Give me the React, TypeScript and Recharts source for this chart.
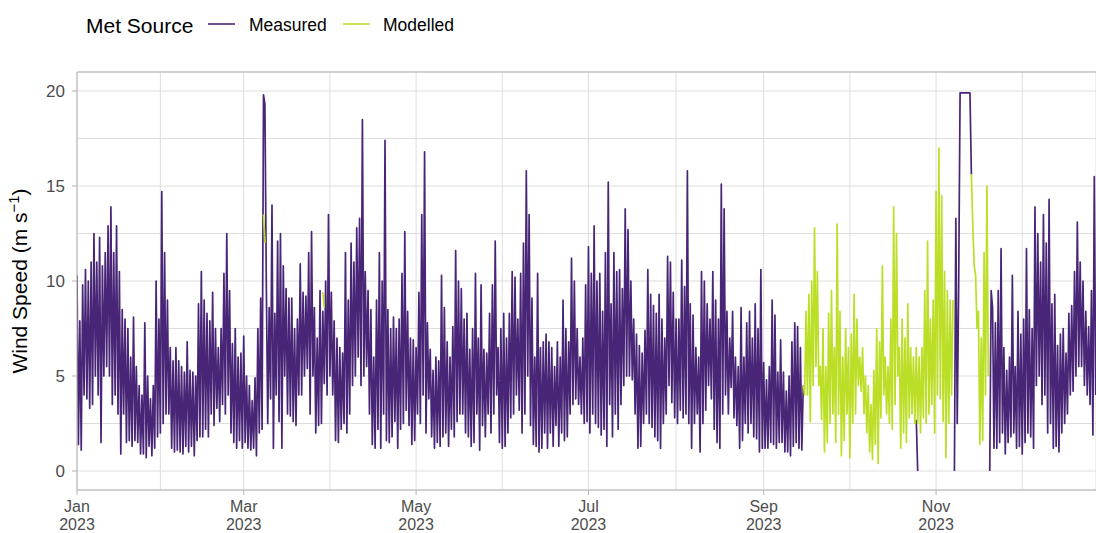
import React from 'react';
import { LineChart, Line, XAxis, YAxis, CartesianGrid, ReferenceLine, Label } from 'recharts';

// each day is drawn as two readings: [peak, trough]; null = no data from that source
type Pair = [number | null, number | null] | null;
const gap = (n: number): Pair[] => Array(n).fill(null);

const measuredJan: Pair[] = [
  [10.3, 1.4], [7.9, 1.1], [9.8, 4.0], [10.6, 3.8], [10.0, 3.3], [11.0, 3.5], [12.5, 5.0], [11.0, 4.0], [12.3, 1.5], [10.8, 5.0],
  [11.5, 5.5], [12.9, 5.0], [13.9, 3.5], [11.5, 4.0], [12.9, 3.0], [10.5, 0.9], [8.5, 3.0], [8.0, 1.5], [7.5, 1.6], [6.0, 1.3],
  [8.1, 1.6], [5.5, 1.5], [4.5, 0.9], [4.0, 0.9], [7.8, 0.7], [5.0, 1.3], [3.8, 0.8], [4.5, 1.2], [10.0, 1.8], [8.0, 2.0],
  [14.7, 2.5],
];
const measuredFeb: Pair[] = [
  [11.5, 3.0], [9.0, 3.0], [6.5, 1.2], [5.8, 1.0], [6.5, 1.1], [5.8, 1.0], [5.5, 0.9], [5.2, 1.3], [6.8, 1.0], [5.3, 1.3],
  [5.2, 0.8], [5.0, 1.6], [8.8, 1.8], [10.5, 1.8], [9.0, 2.2], [8.3, 1.8], [7.9, 3.0], [9.4, 2.4], [7.5, 3.3], [6.5, 2.6],
  [7.5, 3.5], [10.4, 3.0], [12.5, 4.0], [9.5, 2.0], [6.7, 1.5], [7.5, 1.2], [6.0, 1.6], [6.2, 1.2],
];
const measuredMar: Pair[] = [
  [7.1, 1.5], [5.0, 1.2], [4.5, 1.1], [3.7, 1.2], [4.9, 0.8], [7.5, 2.0], [9.1, 2.2], [19.8, 19.3], [9.8, 2.5], [8.6, 3.8],
  [14.0, 1.2], [8.3, 4.0], [12.1, 2.6], [12.5, 1.2], [10.8, 5.0], [9.6, 3.0], [9.1, 2.9], [9.1, 2.6], [7.5, 2.4], [8.0, 4.0],
  [10.9, 4.0], [9.4, 5.0], [9.2, 5.4], [11.5, 3.0], [12.6, 5.0], [8.6, 2.0], [7.0, 2.4], [9.5, 2.5], [8.4, 4.6], [10.0, 4.0],
  [13.5, 5.0],
];
const measuredApr: Pair[] = [
  [9.4, 4.0], [7.9, 1.6], [7.0, 1.5], [6.5, 2.2], [6.2, 2.5], [11.5, 2.0], [9.0, 3.0], [12.0, 4.5], [11.0, 5.0], [12.8, 6.0],
  [13.3, 4.5], [18.5, 5.0], [10.5, 5.5], [9.5, 3.0], [8.5, 1.4], [6.0, 1.2], [9.0, 2.2], [11.5, 1.2], [10.0, 3.0], [17.4, 1.6],
  [8.5, 1.5], [7.5, 1.8], [8.1, 2.6], [7.5, 1.2], [8.0, 2.2], [10.4, 2.5], [12.6, 3.2], [8.4, 2.4], [7.0, 1.4], [6.9, 1.6],
];
const measuredMay: Pair[] = [
  [6.5, 3.0], [9.4, 2.5], [13.5, 4.0], [16.8, 2.0], [7.8, 3.8], [6.4, 1.8], [5.3, 1.2], [6.0, 1.5], [5.8, 1.3], [10.3, 1.8],
  [8.6, 2.0], [6.8, 1.3], [6.0, 2.2], [7.6, 1.8], [11.6, 2.6], [10.0, 3.0], [9.6, 3.0], [8.0, 2.0], [8.3, 1.8], [6.4, 1.3],
  [7.5, 1.5], [10.4, 3.0], [7.0, 1.1], [9.8, 2.4], [6.4, 1.8], [6.2, 3.0], [8.3, 2.0], [9.8, 3.0], [12.1, 4.0], [6.5, 1.5],
  [7.5, 1.2],
];
const measuredJun: Pair[] = [
  [8.3, 1.3], [7.0, 2.0], [8.3, 2.8], [10.5, 3.0], [10.2, 4.0], [8.0, 3.2], [10.4, 2.0], [12.0, 3.0], [15.8, 5.0], [13.5, 2.4],
  [9.1, 1.4], [6.0, 1.3], [10.4, 1.0], [6.5, 1.2], [6.8, 2.0], [7.2, 1.2], [6.8, 2.0], [6.5, 1.3], [5.5, 2.4], [6.8, 1.3],
  [6.0, 2.0], [9.0, 1.6], [7.5, 1.8], [6.8, 3.0], [11.2, 3.5], [10.0, 3.8], [7.5, 3.5], [6.0, 3.0], [7.0, 2.5], [9.8, 2.6],
];
const measuredJul: Pair[] = [
  [11.8, 2.0], [10.4, 3.0], [12.9, 2.5], [10.0, 2.3], [10.4, 1.9], [8.4, 2.2], [11.5, 1.3], [15.2, 3.5], [8.8, 1.8], [11.5, 3.0],
  [10.5, 2.2], [10.6, 3.5], [9.6, 4.5], [13.8, 5.0], [12.7, 5.0], [10.0, 4.8], [8.0, 3.0], [7.2, 1.2], [6.6, 1.3], [6.2, 2.5],
  [7.4, 3.0], [10.6, 2.5], [9.3, 2.3], [8.7, 1.8], [8.3, 1.6], [9.3, 1.2], [8.0, 2.5], [7.0, 3.0], [11.3, 4.5], [11.0, 3.6],
  [9.4, 2.8],
];
const measuredAug: Pair[] = [
  [8.0, 2.5], [8.0, 3.2], [11.1, 2.8], [9.7, 3.0], [15.8, 2.5], [8.8, 1.2], [8.2, 2.5], [6.5, 3.0], [6.0, 1.0], [10.5, 2.5],
  [10.0, 3.2], [8.8, 4.5], [8.0, 3.8], [10.5, 2.2], [9.0, 1.5], [8.0, 1.2], [15.1, 3.0], [13.8, 4.0], [8.4, 3.0], [7.0, 4.4],
  [8.4, 2.8], [6.0, 2.4], [5.5, 1.2], [8.6, 1.6], [6.0, 2.5], [7.8, 2.0], [8.4, 2.5], [7.0, 1.8], [8.8, 1.7], [7.5, 1.0],
  [10.6, 1.2],
];
const measuredSep: Pair[] = [
  [5.7, 1.2], [4.8, 1.2], [5.5, 1.5], [9.0, 1.4], [8.2, 1.2], [5.2, 1.5], [6.9, 1.5], [5.2, 1.0], [4.2, 1.0], [5.0, 0.8],
  [6.8, 1.3], [7.8, 1.5], [7.6, 1.2], [6.5, 1.1], [4.5, null],
  ...gap(15),
];
const measuredOct: Pair[] = [...gap(24), [2.7, 0.0], ...gap(6)];
const measuredNov: Pair[] = [
  ...gap(6),
  [null, 0.0], [13.3, 2.5], [9.7, 19.9], [19.9, 19.9], [19.9, 19.9], [19.9, 19.9], [19.9, 15.6],
  ...gap(6),
  [0.0, 9.5], [8.6, 1.2], [7.8, 1.2], [9.5, 1.5], [11.7, 2.0], [6.5, 0.9], [5.3, 1.5], [6.0, 1.8], [10.3, 2.0], [5.5, 1.2],
  [8.4, 1.3],
];
const measuredDec: Pair[] = [
  [7.2, 0.9], [8.0, 1.5], [11.7, 2.0], [8.5, 1.8], [7.5, 1.2], [13.9, 4.5], [12.5, 5.0], [11.0, 3.5], [13.5, 4.0], [12.0, 2.0],
  [14.3, 2.5], [8.8, 1.2], [9.3, 1.3], [6.6, 1.0], [7.2, 2.0], [7.5, 2.5], [6.2, 3.0], [8.3, 4.0], [8.7, 4.2], [10.5, 5.0],
  [13.1, 5.5], [11.0, 5.5], [10.0, 4.5], [8.4, 4.0], [7.6, 3.5], [9.5, 1.9], [15.5, 4.0],
];

const modelledMar: Pair[] = [...gap(7), [13.5, 12.0], ...gap(20), [9.4, 8.6], ...gap(2)];
const modelledSep: Pair[] = [
  ...gap(14),
  [4.5, 4.0], [8.4, 4.0], [9.3, 2.6], [10.0, 4.5], [12.8, 5.5], [10.5, 4.5], [5.5, 2.7], [7.5, 1.0], [5.5, 1.5], [8.3, 2.5],
  [9.5, 3.0], [6.5, 1.5], [13.0, 3.0], [8.4, 0.8], [6.0, 1.6], [7.5, 3.0],
];
const modelledOct: Pair[] = [
  [6.5, 0.7], [7.2, 2.5], [9.3, 3.0], [8.0, 4.5], [6.0, 4.2], [6.5, 3.0], [5.0, 2.0], [4.5, 1.0], [3.5, 0.6], [5.3, 1.4],
  [7.5, 0.4], [6.8, 2.8], [10.8, 4.0], [6.0, 3.0], [5.5, 2.5], [8.0, 2.2], [13.9, 3.5], [12.5, 5.0], [6.5, 1.2], [8.0, 2.0],
  [7.0, 1.5], [8.8, 2.8], [6.5, 3.0], [6.0, 2.5], [6.5, 2.5], [6.0, 2.0], [6.5, 2.8], [9.5, 2.5], [12.1, 3.0], [8.0, 3.5],
  [9.0, 2.0],
];
const modelledNov: Pair[] = [
  [14.7, 4.0], [17.0, 3.8], [14.5, 2.6], [10.5, 0.7], [9.5, 2.5], [9.0, 4.0], [9.0, null],
  ...gap(5),
  [null, 15.6], [12.9, 10.8], [10.3, 7.5], [8.4, 1.4], [7.0, 1.6], [11.5, 4.0], [15.0, 5.0],
  ...gap(11),
];

const xMajorTicks = [0, 59, 120, 181, 243, 304];
const xMinorTicks = [29.5, 89.5, 150.5, 212, 273.5, 334.5];
const xTickLabels = ['Jan', 'Mar', 'May', 'Jul', 'Sep', 'Nov'];
const yearLabel = '2023';
const yMajorTicks = [0, 5, 10, 15, 20];
const yMinorTicks = [2.5, 7.5, 12.5, 17.5];

const seriesNames = ['Measured', 'Modelled'];
const seriesColors = ['#482576', '#BBDF27'];
const legendTitle = 'Met Source';

const measuredMonths = [measuredJan, measuredFeb, measuredMar, measuredApr, measuredMay, measuredJun,
  measuredJul, measuredAug, measuredSep, measuredOct, measuredNov, measuredDec];
const modelledMonths: (Pair[] | null)[] = [null, null, modelledMar, null, null, null,
  null, null, modelledSep, modelledOct, modelledNov, null];

const rows: { t: number; measured: number | null; modelled: number | null }[] = [];
let day = 0;
measuredMonths.forEach((month, i) => {
  const other = modelledMonths[i];
  month.forEach((pair, j) => {
    const mod = other ? other[j] : null;
    [0, 1].forEach((k) => {
      rows.push({
        t: day + k * 0.5,
        measured: pair ? pair[k] : null,
        modelled: mod ? mod[k] : null,
      });
    });
    day++;
  });
});

const FONT = '"Liberation Sans", Arial, sans-serif';

const XTick = (props: any) => {
  const { x, y, payload } = props;
  const i = xMajorTicks.indexOf(payload.value);
  if (i < 0) return <g />;
  return (
    <g>
      <line x1={x} x2={x} y1={y - 5} y2={y} stroke="#B3B3B3" />
      <text x={x} y={y + 17} textAnchor="middle" fill="#4D4D4D" fontSize={16}>
        <tspan x={x}>{xTickLabels[i]}</tspan>
        <tspan x={x} dy={18}>{yearLabel}</tspan>
      </text>
    </g>
  );
};

const YTick = (props: any) => {
  const { x, y, payload } = props;
  if (!yMajorTicks.includes(payload.value)) return <g />;
  return (
    <g>
      <line x1={x} x2={x + 5} y1={y} y2={y} stroke="#B3B3B3" />
      <text x={x - 7} y={y} dy="0.36em" textAnchor="end" fill="#4D4D4D" fontSize={17}>{payload.value}</text>
    </g>
  );
};

const YTitle = (props: any) => {
  const vb = props.viewBox || { x: 0, y: 72, width: 77, height: 418 };
  const cx = vb.x + 27;
  const cy = vb.y + vb.height / 2;
  return (
    <text x={cx} y={cy} transform={`rotate(-90, ${cx}, ${cy})`} textAnchor="middle" fill="#000" fontSize={21}>
      Wind Speed (m s<tspan dy={-8} fontSize={15}>−1</tspan><tspan dy={8}>)</tspan>
    </text>
  );
};

const App: React.FC = () => {
  return (
    <div style={{ position: 'absolute', left: 0, top: 0, width: 1096, height: 533, overflow: 'hidden', background: '#fff', fontFamily: FONT }}>
      <LineChart width={1096} height={533} data={rows} margin={{ top: 72, right: 0, bottom: 0, left: 0 }}>
        <CartesianGrid stroke="#DEDEDE" strokeWidth={1} />
        <XAxis
          type="number"
          dataKey="t"
          domain={[0, 360.6]}
          allowDataOverflow
          ticks={[...xMajorTicks, ...xMinorTicks].sort((a, b) => a - b)}
          interval={0}
          tick={<XTick />}
          tickLine={false}
          tickSize={5}
          tickMargin={0}
          axisLine={{ stroke: '#B3B3B3' }}
          height={43}
        />
        <YAxis
          type="number"
          domain={[-1, 21]}
          allowDataOverflow
          ticks={[...yMajorTicks, ...yMinorTicks].sort((a, b) => a - b)}
          interval={0}
          tick={<YTick />}
          tickLine={false}
          tickSize={5}
          tickMargin={0}
          axisLine={{ stroke: '#B3B3B3' }}
          width={77}
          label={<Label content={<YTitle />} />}
        />
        <ReferenceLine y={21} stroke="#B3B3B3" />
        <Line
          type="linear"
          dataKey="measured"
          name={seriesNames[0]}
          stroke={seriesColors[0]}
          strokeWidth={1.7}
          strokeLinejoin="round"
          dot={false}
          activeDot={false}
          isAnimationActive={false}
        />
        <Line
          type="linear"
          dataKey="modelled"
          name={seriesNames[1]}
          stroke={seriesColors[1]}
          strokeWidth={1.7}
          strokeLinejoin="round"
          dot={false}
          activeDot={false}
          isAnimationActive={false}
        />
      </LineChart>
      <svg width={480} height={50} style={{ position: 'absolute', left: 0, top: 0, pointerEvents: 'none' }}>
        <text x={86} y={33} fontSize={21} fill="#000">{legendTitle}</text>
        <line x1={208} x2={235} y1={24} y2={24} stroke={seriesColors[0]} strokeWidth={1.6} />
        <text x={249} y={31} fontSize={17.5} fill="#000">{seriesNames[0]}</text>
        <line x1={343} x2={370} y1={24} y2={24} stroke={seriesColors[1]} strokeWidth={1.6} />
        <text x={383} y={31} fontSize={17.5} fill="#000">{seriesNames[1]}</text>
      </svg>
    </div>
  );
};

export default App;
